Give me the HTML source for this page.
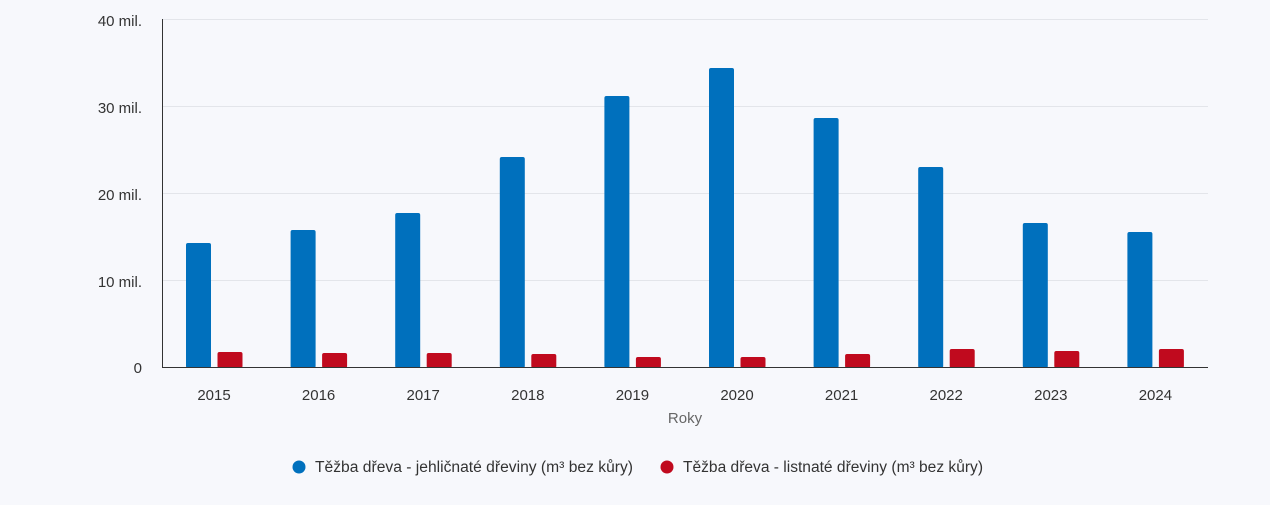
<!DOCTYPE html>
<html><head><meta charset="utf-8"><style>
html,body{margin:0;padding:0;background:#f7f8fc;}
svg{display:block;font-family:"Liberation Sans",Arial,sans-serif;}
</style></head><body>
<svg width="1270" height="505" viewBox="0 0 1270 505">
<rect width="1270" height="505" fill="#f7f8fc"/>
<g stroke="#e3e5ea" stroke-width="1">
<line x1="162" y1="19.5" x2="1208" y2="19.5"/>
<line x1="162" y1="106.5" x2="1208" y2="106.5"/>
<line x1="162" y1="193.5" x2="1208" y2="193.5"/>
<line x1="162" y1="280.5" x2="1208" y2="280.5"/>
</g>
<g fill="#333" font-size="15" text-anchor="end">
<text x="142" y="26">40 mil.</text>
<text x="142" y="113">30 mil.</text>
<text x="142" y="200">20 mil.</text>
<text x="142" y="287">10 mil.</text>
<text x="142" y="373">0</text>
</g>
<g fill="#0070bd">
<rect x="186" y="243" width="25" height="125" rx="2"/>
<rect x="290.6" y="230" width="25" height="138" rx="2"/>
<rect x="395.2" y="213" width="25" height="155" rx="2"/>
<rect x="499.8" y="157" width="25" height="211" rx="2"/>
<rect x="604.4" y="96" width="25" height="272" rx="2"/>
<rect x="709" y="68" width="25" height="300" rx="2"/>
<rect x="813.6" y="118" width="25" height="250" rx="2"/>
<rect x="918.2" y="167" width="25" height="201" rx="2"/>
<rect x="1022.8" y="223" width="25" height="145" rx="2"/>
<rect x="1127.4" y="232" width="25" height="136" rx="2"/>
</g>
<g fill="#c00a1e">
<rect x="217.5" y="352" width="25" height="16" rx="2"/>
<rect x="322.1" y="353" width="25" height="15" rx="2"/>
<rect x="426.7" y="353" width="25" height="15" rx="2"/>
<rect x="531.3" y="354" width="25" height="14" rx="2"/>
<rect x="635.9" y="357" width="25" height="11" rx="2"/>
<rect x="740.5" y="357" width="25" height="11" rx="2"/>
<rect x="845.1" y="354" width="25" height="14" rx="2"/>
<rect x="949.7" y="349" width="25" height="19" rx="2"/>
<rect x="1054.3" y="351" width="25" height="17" rx="2"/>
<rect x="1158.9" y="349" width="25" height="19" rx="2"/>
</g>
<line x1="162.5" y1="19" x2="162.5" y2="367" stroke="#333" stroke-width="1"/>
<line x1="162" y1="367.5" x2="1208" y2="367.5" stroke="#333" stroke-width="1"/>
<g fill="#333" font-size="15" text-anchor="middle">
<text x="214" y="400">2015</text>
<text x="318.6" y="400">2016</text>
<text x="423.2" y="400">2017</text>
<text x="527.8" y="400">2018</text>
<text x="632.4" y="400">2019</text>
<text x="737" y="400">2020</text>
<text x="841.6" y="400">2021</text>
<text x="946.2" y="400">2022</text>
<text x="1050.8" y="400">2023</text>
<text x="1155.4" y="400">2024</text>
</g>
<text x="685" y="423" fill="#666" font-size="15" text-anchor="middle">Roky</text>
<circle cx="299" cy="467" r="6.5" fill="#0070bd"/>
<text x="315" y="472" fill="#333" font-size="15.5" textLength="318" lengthAdjust="spacingAndGlyphs">Těžba dřeva - jehličnaté dřeviny (m³ bez kůry)</text>
<circle cx="667" cy="467" r="6.5" fill="#c00a1e"/>
<text x="683" y="472" fill="#333" font-size="15.5" textLength="300" lengthAdjust="spacingAndGlyphs">Těžba dřeva - listnaté dřeviny (m³ bez kůry)</text>
</svg>
</body></html>
